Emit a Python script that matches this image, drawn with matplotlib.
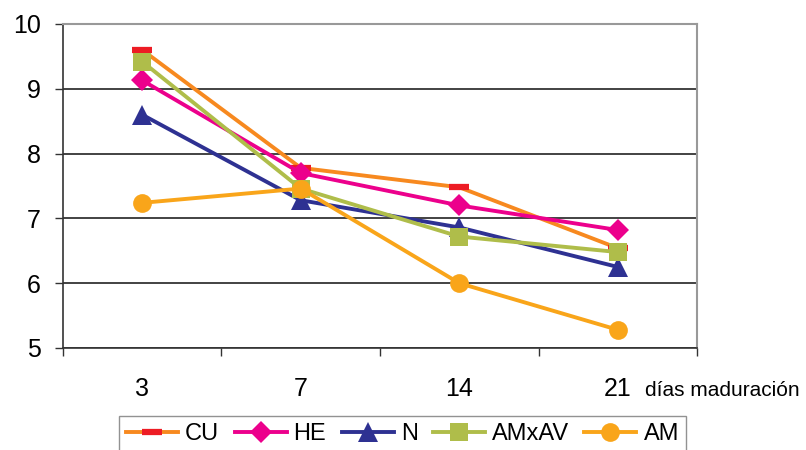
import matplotlib.pyplot as plt
from matplotlib.ticker import FixedLocator

plt.rcParams['font.family'] = ['Liberation Sans', 'DejaVu Sans']

# Datos
dias = ["3", "7", "14", "21"]
cu = [9.60, 7.78, 7.48, 6.54]
he = [9.13, 7.70, 7.20, 6.82]
n = [8.60, 7.28, 6.86, 6.25]
amxav = [9.42, 7.46, 6.72, 6.48]
am = [7.24, 7.46, 6.00, 5.28]

x = range(len(dias))

fig = plt.figure(figsize=(8.06, 4.5), dpi=100)
ax = fig.add_axes([0.078, 0.2267, 0.787, 0.72])

lw = 2.8
ax.plot(x, cu, color="#F7891F", lw=lw, marker="_", markersize=14,
        markeredgewidth=4.5, markeredgecolor="#ED1C24", label="CU")
ax.plot(x, he, color="#EC008C", lw=lw, marker="D", markersize=11,
        markeredgewidth=0, label="HE")
ax.plot(x, n, color="#2E3192", lw=lw, marker="^", markersize=14,
        markeredgewidth=0, label="N")
ax.plot(x, amxav, color="#AFBD4A", lw=lw, marker="s", markersize=13,
        markeredgewidth=0, label="AMxAV")
ax.plot(x, am, color="#F9A51A", lw=lw, marker="o", markersize=13.5,
        markeredgewidth=0, label="AM")

ax.set_xlim(-0.5, 3.5)
ax.set_ylim(5, 10)
ax.set_yticks([5, 6, 7, 8, 9, 10])
ax.yaxis.grid(True, color="#222222", lw=1.2)
ax.set_axisbelow(True)

ax.set_xticks(list(x))
ax.set_xticklabels(dias)
ax.xaxis.set_minor_locator(FixedLocator([-0.5, 0.5, 1.5, 2.5, 3.5]))
ax.tick_params(axis="x", which="major", length=0, pad=21, labelsize=18)
ax.tick_params(axis="x", which="minor", length=6, width=1, color="#333333", direction="out")
ax.tick_params(axis="y", length=6, width=1, color="#333333", labelsize=18, pad=10)

for s in ["top", "right"]:
    ax.spines[s].set_color("#999999")
    ax.spines[s].set_linewidth(1.5)
ax.spines["left"].set_color("#333333")
ax.spines["bottom"].set_color("#333333")
ax.spines["left"].set_linewidth(1.2)
ax.spines["bottom"].set_linewidth(1.2)

fig.text(0.800, 0.133, "días maduración", fontsize=15, ha="left", va="center")

leg = fig.legend(loc="upper center", bbox_to_anchor=(0.4994, 0.0756), ncol=5,
                 frameon=True, fancybox=False, edgecolor="#777777", fontsize=17,
                 handlelength=2.2, handletextpad=0.3, columnspacing=0.65,
                 borderpad=0.3, borderaxespad=0)
leg.get_frame().set_linewidth(1.0)

fig.savefig("out.png", dpi=100)
